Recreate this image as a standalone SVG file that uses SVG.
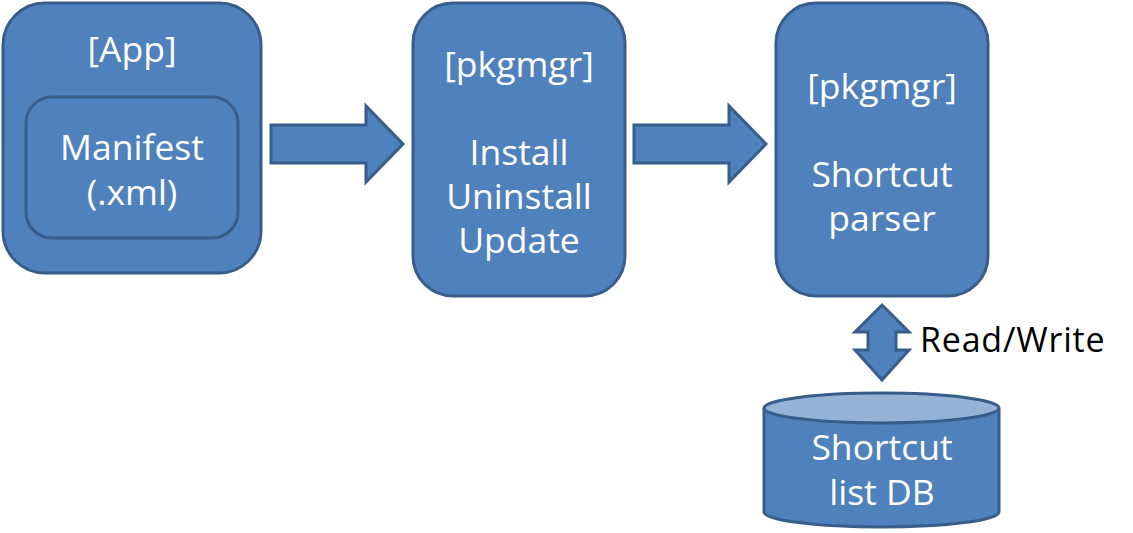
<svg xmlns="http://www.w3.org/2000/svg" width="1133" height="533" viewBox="0 0 1133 533">
<style>
.box{fill:#4F81BD;stroke:#385D8A;stroke-width:3}
.arr{fill:#4F81BD;stroke:#385D8A;stroke-width:3;stroke-linejoin:miter}
.t{font-family:"Open Sans","Noto Sans","Liberation Sans",sans-serif;font-size:35.5px;fill:#FFFFFF;text-anchor:middle}
.lbl{font-family:"Open Sans","Noto Sans","Liberation Sans",sans-serif;font-size:34px;letter-spacing:0.8px;fill:#000000}
</style>
<rect width="1133" height="533" fill="#FFFFFF"/>
<g id="connectors">
<path class="arr" d="M271,125 H366 V106 L403,144 L366,182 V163 H271 Z"/>
<path class="arr" d="M634,125 H729 V106 L766,144 L729,182 V163 H634 Z"/>
<path class="arr" d="M882,305 L909,332 H896 V350 H909 L882,380 L855,350 H868 V332 H855 Z"/>
<text class="lbl" x="920" y="352">Read/Write</text>
</g>
<g id="app">
<rect class="box" x="3" y="3" width="258" height="270" rx="42"/>
<text class="t" x="132" y="62">[App]</text>
</g>
<g id="manifest">
<rect class="box" x="26" y="97" width="212" height="141" rx="26"/>
<text class="t" x="132" y="160">Manifest</text>
<text class="t" x="132" y="205">(.xml)</text>
</g>
<g id="pkgmgr-install">
<rect class="box" x="413" y="3" width="212" height="293" rx="40"/>
<text class="t" x="519" y="77">[pkgmgr]</text>
<text class="t" x="519" y="165">Install</text>
<text class="t" x="519" y="209">Uninstall</text>
<text class="t" x="519" y="253">Update</text>
</g>
<g id="pkgmgr-shortcut">
<rect class="box" x="776" y="3" width="212" height="293" rx="40"/>
<text class="t" x="882" y="99">[pkgmgr]</text>
<text class="t" x="882" y="187">Shortcut</text>
<text class="t" x="882" y="231">parser</text>
</g>
<g id="shortcut-db">
<path class="box" d="M764,408 V512 A117.5,15 0 0 0 999,512 V408"/>
<ellipse cx="881.5" cy="408" rx="117.5" ry="15" fill="#95B3D7" stroke="#385D8A" stroke-width="3"/>
<text class="t" x="882" y="460">Shortcut</text>
<text class="t" x="882" y="504.5">list DB</text>
</g>
</svg>
